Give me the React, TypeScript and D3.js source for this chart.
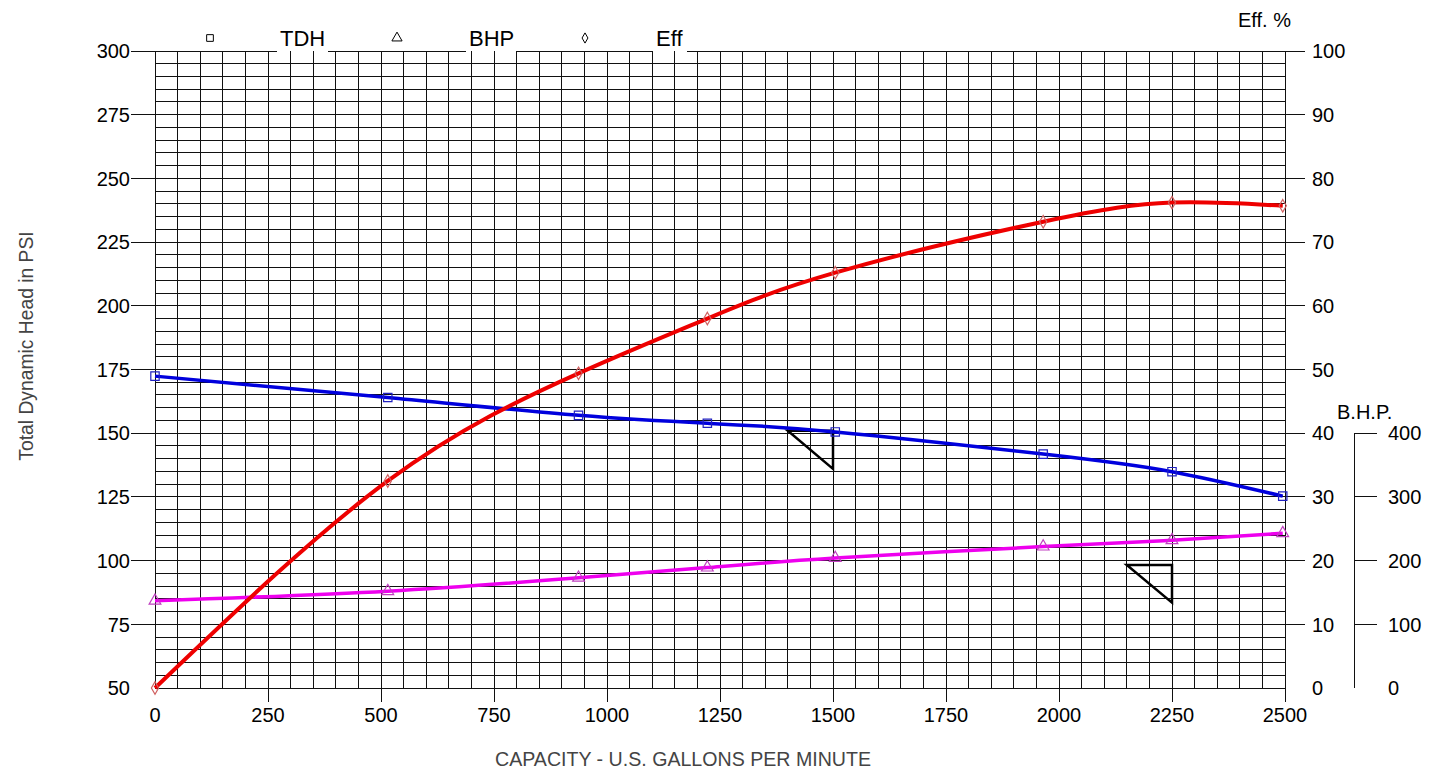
import React from 'react';
import * as d3 from 'd3';

// ---- data ----
const capacity = [0, 515, 937, 1222, 1505, 1965, 2250, 2495];
const tdhValues = [172.4, 164.0, 157.0, 153.9, 150.5, 141.8, 134.9, 125.3];
const bhpValues = [137, 152, 173, 189, 204, 222, 232, 243];
const effValues = [0, 32.5, 49.4, 58.0, 65.2, 73.2, 76.2, 75.7];

const xTicks = [0, 250, 500, 750, 1000, 1250, 1500, 1750, 2000, 2250, 2500];
const psiTicks = [50, 75, 100, 125, 150, 175, 200, 225, 250, 275, 300];
const effTicks = [0, 10, 20, 30, 40, 50, 60, 70, 80, 90, 100];
const bhpTicks = [0, 100, 200, 300, 400];

const legendItems = [
  { label: 'TDH', symbol: 'square', mx: 210, tx: 280 },
  { label: 'BHP', symbol: 'triangle', mx: 397, tx: 469 },
  { label: 'Eff', symbol: 'diamond', mx: 585, tx: 656 },
];

// slope triangles (capacity, PSI)
const triangleA = [[1400, 151], [1500, 151], [1500, 136]];
const triangleB = [[2150, 98.3], [2250, 98.3], [2250, 83.5]];

const FONT = '"Liberation Sans", Arial, Helvetica, sans-serif';

export default function App() {
  const left = 155, right = 1285, top = 51, bottom = 688;
  const x = d3.scaleLinear().domain([0, 2500]).range([left, right]);
  const yPsi = d3.scaleLinear().domain([50, 300]).range([bottom, top]);
  const yEff = d3.scaleLinear().domain([0, 100]).range([bottom, top]);
  const yBhp = d3.scaleLinear().domain([0, 1000]).range([bottom, top]);

  const vGrid = d3.range(0, 2501, 50);
  const hGrid = d3.range(50, 301, 5);

  const mk = (ys: number[], sc: any) => {
    const pts = capacity.map((c, i) => [x(c), sc(ys[i])] as [number, number]);
    return d3.line().curve(d3.curveNatural)(pts) as string;
  };
  const tdhPath = mk(tdhValues, yPsi);
  const bhpPath = mk(bhpValues, yBhp);
  const effPath = mk(effValues, yEff);

  const sym = (t: string, size: number) =>
    d3.symbol().type(t === 'square' ? d3.symbolSquare : t === 'triangle' ? d3.symbolTriangle : d3.symbolDiamond).size(size)() as string;

  const triPath = (tri: number[][]) =>
    'M' + tri.map((p) => `${x(p[0])},${yPsi(p[1])}`).join('L') + 'Z';

  const bhpAxisX = 1354;

  return (
    <svg width={1447} height={770} style={{ position: 'absolute', left: 0, top: 0, background: '#fff' }} fontFamily={FONT}>
      <rect x={0} y={0} width={1447} height={770} fill="#fff" />
      {/* horizontal grid */}
      <g stroke="#111" strokeWidth={1} shapeRendering="crispEdges">
        {hGrid.map((v) => (
          <line key={'h' + v} x1={left} x2={right} y1={yPsi(v)} y2={yPsi(v)} />
        ))}
        <line x1={131} x2={left} y1={top} y2={top} />
        <line x1={right} x2={1305} y1={top} y2={top} />
      </g>
      {/* legend boxes covering top line */}
      {legendItems.map((l) => (
        <rect key={'lb' + l.label} x={l.tx - 3} y={24} width={l.label === 'Eff' ? 34 : 51} height={29} fill="#fff" />
      ))}
      {/* vertical grid */}
      <g stroke="#111" strokeWidth={1} shapeRendering="crispEdges">
        {vGrid.map((v) => (
          <line key={'v' + v} x1={x(v)} x2={x(v)} y1={top} y2={bottom} />
        ))}
      </g>
      {/* axis ticks */}
      <g stroke="#111" strokeWidth={1} shapeRendering="crispEdges">
        {psiTicks.filter((t) => t !== 50).map((t) => (
          <line key={'lt' + t} x1={131} x2={left} y1={yPsi(t)} y2={yPsi(t)} />
        ))}
        {effTicks.filter((t) => t !== 0).map((t) => (
          <line key={'rt' + t} x1={right} x2={1305} y1={yEff(t)} y2={yEff(t)} />
        ))}
        {xTicks.filter((t) => t !== 0).map((t) => (
          <line key={'bt' + t} x1={x(t)} x2={x(t)} y1={bottom} y2={702} />
        ))}
        <line x1={bhpAxisX} x2={bhpAxisX} y1={yBhp(400)} y2={bottom} />
        {bhpTicks.filter((t) => t !== 0).map((t) => (
          <line key={'bh' + t} x1={bhpAxisX} x2={1377} y1={yBhp(t)} y2={yBhp(t)} />
        ))}
      </g>
      <g fontSize={20} fill="#000">
        {psiTicks.map((t) => (
          <text key={'ll' + t} x={130} y={yPsi(t)} dy="0.36em" textAnchor="end">{t}</text>
        ))}
        {effTicks.map((t) => (
          <text key={'rl' + t} x={1312} y={yEff(t)} dy="0.36em" textAnchor="start">{t}</text>
        ))}
        {bhpTicks.map((t) => (
          <text key={'bl' + t} x={1388} y={yBhp(t)} dy="0.36em" textAnchor="start">{t}</text>
        ))}
        {xTicks.map((t) => (
          <text key={'xl' + t} x={x(t)} y={722} textAnchor="middle">{t}</text>
        ))}
        <text x={1238} y={27}>Eff. %</text>
        <text x={1337} y={419}>B.H.P.</text>
      </g>
      {/* axis titles */}
      <text x={683} y={766} textAnchor="middle" fontSize={19.6} fill="#444">CAPACITY - U.S. GALLONS PER MINUTE</text>
      <text transform="translate(33,346) rotate(-90)" textAnchor="middle" fontSize={19.3} fill="#444">Total Dynamic Head in PSI</text>
      {/* legend */}
      {legendItems.map((l) => (
        <g key={'lg' + l.label}>
          <path d={sym(l.symbol, l.symbol === 'diamond' ? 30 : 45)} transform={`translate(${l.mx},38)`} fill="none" stroke="#000" strokeWidth={1} />
          <text x={l.tx} y={46} fontSize={22}>{l.label}</text>
        </g>
      ))}
      {/* triangles */}
      <path d={triPath(triangleA)} fill="none" stroke="#000" strokeWidth={2.5} />
      <path d={triPath(triangleB)} fill="none" stroke="#000" strokeWidth={2.5} />
      {/* curves */}
      <path d={bhpPath} fill="none" stroke="#ee00ee" strokeWidth={3.5} />
      <path d={tdhPath} fill="none" stroke="#0000dd" strokeWidth={3.5} />
      <path d={effPath} fill="none" stroke="#ee0000" strokeWidth={4} />
      {/* markers */}
      {capacity.map((c, i) => (
        <g key={'m' + i} fill="none" strokeWidth={1.2}>
          <path d={sym('square', 70)} transform={`translate(${x(c)},${yPsi(tdhValues[i])})`} stroke="#2020c0" />
          <path d={sym('triangle', 60)} transform={`translate(${x(c)},${yBhp(bhpValues[i])})`} stroke="#c040c0" />
          <path d={sym('diamond', 45)} transform={`translate(${x(c)},${yEff(effValues[i])})`} stroke="#d06060" />
        </g>
      ))}
    </svg>
  );
}
